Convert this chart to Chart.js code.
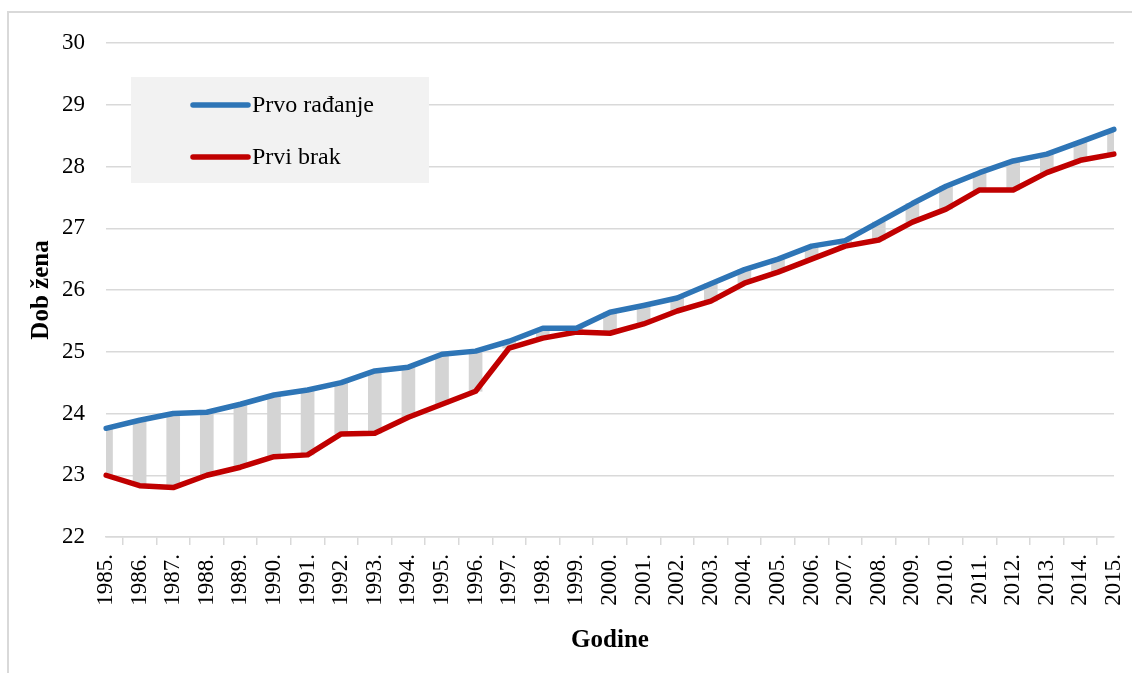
<!DOCTYPE html>
<html>
<head>
<meta charset="utf-8">
<script src="https://cdn.jsdelivr.net/npm/chart.js@4.4.1/dist/chart.umd.min.js"></script>
<style>
  html, body { margin: 0; padding: 0; background: #fff; overflow: hidden; }
  #frame { position: absolute; left: 7px; top: 11px; width: 1140px; height: 680px;
           border-left: 2px solid #d9d9d9; border-top: 2px solid #d9d9d9; box-sizing: border-box; }
  #wrap { position: absolute; left: 0; top: 0; width: 1132px; height: 673px; }
</style>
</head>
<body>
<div id="frame"></div>
<div id="wrap"><canvas id="c" width="1132" height="673"></canvas></div>
<script>
const years = ["1985.","1986.","1987.","1988.","1989.","1990.","1991.","1992.","1993.","1994.",
  "1995.","1996.","1997.","1998.","1999.","2000.","2001.","2002.","2003.","2004.",
  "2005.","2006.","2007.","2008.","2009.","2010.","2011.","2012.","2013.","2014.","2015."];
const prvoRadanje = [23.76,23.89,24.00,24.02,24.15,24.30,24.38,24.50,24.69,24.75,
  24.96,25.01,25.17,25.38,25.38,25.64,25.75,25.87,26.10,26.33,
  26.50,26.71,26.80,27.10,27.40,27.68,27.90,28.09,28.20,28.40,28.60];
const prviBrak = [23.00,22.83,22.80,23.00,23.13,23.30,23.33,23.67,23.68,23.94,
  24.15,24.36,25.06,25.22,25.32,25.30,25.45,25.66,25.82,26.11,
  26.29,26.50,26.71,26.81,27.10,27.31,27.62,27.62,27.90,28.10,28.20];
const seriesNames = ["Prvo rađanje", "Prvi brak"];
const yTicks = [22,23,24,25,26,27,28,29,30];

const BLUE = '#2E75B6', RED = '#C00000', GRID = '#d9d9d9';
const FONT = "'Liberation Serif', 'Times New Roman', serif";

const legendBox = {
  id: 'legendBox',
  afterDatasetsDraw(chart) {
    const {ctx, chartArea} = chart;
    const x0 = chartArea.left + 25, y0 = chartArea.top + 34;
    ctx.save();
    ctx.fillStyle = '#f2f2f2';
    ctx.fillRect(x0, y0, 298, 106);
    const items = [chart.data.datasets[0], chart.data.datasets[1]];
    items.forEach((ds, i) => {
      const y = y0 + 28 + i * 52;
      ctx.strokeStyle = ds.borderColor;
      ctx.lineWidth = 5.5;
      ctx.lineCap = 'round';
      ctx.beginPath();
      ctx.moveTo(x0 + 62, y);
      ctx.lineTo(x0 + 117, y);
      ctx.stroke();
      ctx.fillStyle = '#000';
      ctx.font = "24px " + FONT;
      ctx.textBaseline = 'middle';
      ctx.textAlign = 'left';
      ctx.fillText(ds.label, x0 + 121, y + 1);
    });
    ctx.restore();
  }
};

new Chart(document.getElementById('c'), {
  data: {
    labels: years,
    datasets: [
      { type: 'line', label: seriesNames[0], data: prvoRadanje, borderColor: BLUE, backgroundColor: BLUE,
        borderWidth: 5.5, pointRadius: 0, tension: 0, borderJoinStyle: 'round', borderCapStyle: 'round', order: 0 },
      { type: 'line', label: seriesNames[1], data: prviBrak, borderColor: RED, backgroundColor: RED,
        borderWidth: 5.5, pointRadius: 0, tension: 0, borderJoinStyle: 'round', borderCapStyle: 'round', order: 0 },
      { type: 'bar', label: 'razlika', data: years.map((_, i) => [prviBrak[i], prvoRadanje[i]]),
        backgroundColor: '#d4d4d4', borderWidth: 0, barThickness: 13, order: 1 }
    ]
  },
  options: {
    responsive: false,
    animation: false,
    layout: { padding: { left: 27, top: 43, right: 18, bottom: 17 } },
    plugins: { legend: { display: false }, tooltip: { enabled: false } },
    scales: {
      x: {
        type: 'category',
        offset: false,
        afterFit(scale) { scale.height = 119; scale.paddingLeft = 0; scale.paddingRight = 0; },
        grid: { drawOnChartArea: false, drawTicks: true, tickLength: 8, color: GRID, lineWidth: 1.5 },
        border: { display: true, color: GRID, width: 1.5 },
        ticks: { color: '#000', font: { family: FONT, size: 23 }, minRotation: 90, maxRotation: 90,
                 autoSkip: false, padding: 9 },
        title: { display: true, text: 'Godine', color: '#000', padding: 0,
                 font: { family: FONT, size: 25, weight: 'bold' } }
      },
      y: {
        min: 22, max: 30,
        afterFit(scale) { scale.width = 79; scale.paddingTop = 0; scale.paddingBottom = 0; },
        afterBuildTicks(scale) { scale.ticks = yTicks.map(v => ({ value: v })); },
        grid: { color: GRID, lineWidth: 1.5, drawTicks: false },
        border: { display: false },
        ticks: { color: '#000', font: { family: FONT, size: 23 }, padding: 21 },
        title: { display: true, text: 'Dob žena', color: '#000', padding: 0,
                 font: { family: FONT, size: 25, weight: 'bold' } }
      }
    }
  },
  plugins: [legendBox]
});
</script>
</body>
</html>
